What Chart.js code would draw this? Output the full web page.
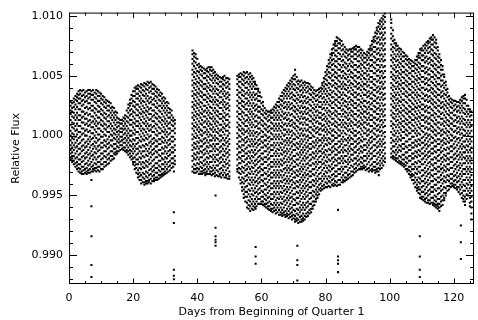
<!DOCTYPE html>
<html lang="en">
<head>
<meta charset="UTF-8">
<title>Relative Flux</title>
<script src="https://cdn.jsdelivr.net/npm/chart.js"></script>
<style>
    html, body { margin: 0; padding: 0; background: #fff; }
</style>
</head>
<body>
<canvas id="fluxChart" width="478" height="320"></canvas>
<script>
// flux values are offsets from 1.0 in units of 1e-4 (38 -> 1.0038)
// columns of samples, on half days and whole days
const q1Days = [0.5,1.5,2.5,3.5,4.5,5.5,6.5,7.5,8.5,9.5,10.5,11.5,12.5,13.5,14.5,15.5,16.5,17.5,18.5,19.5,20.5,21.5,22.5,23.5,24.5,25.5,26.5,27.5,28.5,29.5,30.5,31.5,32.5];
const q1Flux = [
    [28,25,21,18,13,9,4,0,-4,-8,-12,-15,-18,-20],
    [31,28,24,19,15,10,6,1,-3,-8,-12,-17,-21,-24],
    [35,32,29,24,19,15,10,5,1,-4,-9,-13,-18,-22,-25,-28],
    [38,35,31,27,22,17,13,8,3,-1,-6,-11,-15,-20,-24,-28,-31],
    [38,34,30,26,20,16,11,6,2,-3,-8,-12,-17,-21,-26,-29,-32],
    [37,33,29,24,19,14,10,5,0,-5,-9,-14,-18,-23,-27,-30,-32],
    [38,35,32,27,23,18,13,9,4,-1,-5,-10,-15,-19,-24,-28,-31],
    [38,34,30,25,21,16,12,7,2,-2,-7,-11,-16,-20,-25,-28,-30],
    [38,35,31,27,22,17,12,8,3,-2,-6,-11,-15,-20,-24,-27,-30],
    [36,33,29,24,20,15,11,6,1,-3,-8,-12,-17,-22,-26,-30],
    [33,30,26,21,17,12,8,3,-1,-6,-10,-15,-19,-24,-28],
    [30,27,23,18,14,9,5,0,-5,-9,-13,-18,-22,-25],
    [28,25,21,17,12,8,3,-1,-6,-10,-15,-19,-23],
    [24,21,17,13,8,4,0,-4,-9,-13,-17,-20],
    [20,17,13,9,5,1,-3,-7,-11,-14,-16],
    [14,11,8,4,1,-3,-6,-10,-13],
    [13,10,6,3,-1,-4,-8,-11],
    [17,14,10,6,2,-2,-6,-10,-13],
    [26,23,19,15,11,6,2,-2,-6,-10,-13,-16],
    [34,31,27,22,18,13,9,4,0,-5,-9,-13,-17,-20],
    [40,37,33,28,24,19,14,10,5,1,-4,-9,-13,-18,-22,-25,-28],
    [42,39,35,31,26,21,17,12,8,3,-2,-6,-11,-15,-20,-24,-29,-32,-35],
    [43,40,36,31,27,22,18,13,8,4,-1,-5,-10,-15,-19,-24,-28,-33,-37,-40],
    [44,41,37,33,28,23,19,14,10,5,0,-4,-9,-13,-18,-23,-27,-32,-36,-39,-41],
    [45,42,38,33,29,24,20,15,10,6,1,-3,-8,-13,-17,-22,-26,-31,-35,-38,-40],
    [45,41,37,32,28,23,18,14,9,5,0,-5,-9,-14,-18,-23,-28,-32,-36,-40],
    [42,39,35,31,26,21,17,12,8,3,-2,-6,-11,-15,-20,-25,-29,-33,-36,-38],
    [39,36,32,27,23,18,14,9,4,0,-5,-9,-14,-18,-23,-27,-31,-35,-37],
    [36,33,29,25,20,15,11,6,2,-3,-7,-12,-17,-21,-26,-30,-33,-35],
    [32,29,25,21,16,12,7,3,-2,-6,-11,-15,-20,-24,-28,-31,-33],
    [28,25,21,17,12,8,3,-1,-6,-10,-15,-19,-24,-28,-31],
    [22,19,15,11,6,2,-3,-7,-12,-16,-21,-25,-29],
    [15,12,8,4,-1,-5,-10,-14,-19,-23,-26]
];
const q1MidDays = [1,2,3,4,5,6,7,8,9,10,11,12,13,14,15,16,17,18,19,20,21,22,23,24,25,26,27,28,29,30,31,32,33];
const q1MidFlux = [
    [27,23,20,16,11,7,2,-2,-6,-10,-14,-17,-19,-22],
    [33,30,26,22,17,13,8,4,-1,-6,-10,-15,-19,-23,-26],
    [37,34,31,27,22,17,13,8,3,-2,-7,-11,-16,-20,-24,-27,-30],
    [37,33,29,25,20,15,11,6,1,-4,-9,-13,-18,-22,-26,-30,-32],
    [36,32,28,23,18,14,9,4,0,-6,-10,-15,-19,-24,-28,-31],
    [38,35,31,27,22,17,12,8,3,-3,-7,-12,-16,-21,-25,-29,-31],
    [37,34,30,25,21,16,11,7,2,-3,-8,-13,-17,-22,-26,-30],
    [36,32,28,23,19,14,10,5,0,-5,-9,-14,-18,-23,-27,-29],
    [37,33,29,25,20,15,10,6,1,-4,-9,-13,-18,-22,-26,-29],
    [35,31,27,22,18,13,9,4,-1,-6,-10,-15,-20,-24,-28],
    [32,28,24,19,15,10,6,1,-4,-8,-13,-17,-22,-26],
    [29,25,21,16,12,7,3,-3,-7,-11,-16,-20,-24],
    [27,23,19,15,10,6,1,-4,-8,-13,-17,-21],
    [23,19,15,11,6,2,-2,-7,-11,-15,-19],
    [19,15,11,7,3,-1,-5,-9,-13,-15],
    [13,10,6,3,-1,-5,-8,-12],
    [15,12,8,5,1,-3,-6,-10,-12],
    [21,16,12,8,4,0,-4,-8,-12,-14],
    [30,27,25,21,17,13,9,4,0,-4,-8,-12,-15,-18],
    [37,33,29,25,20,16,11,7,2,-3,-7,-11,-15,-19,-22,-24],
    [41,39,35,31,26,22,17,12,8,3,-2,-7,-11,-16,-20,-24,-27,-31],
    [41,37,33,29,24,19,15,10,6,1,-4,-9,-13,-18,-22,-27,-31,-34,-37],
    [42,38,34,29,25,20,16,11,6,2,-3,-8,-13,-17,-22,-26,-31,-35,-39],
    [43,39,35,31,26,21,17,12,8,3,-2,-7,-11,-16,-21,-25,-30,-34,-38,-40],
    [44,40,36,31,27,22,18,13,8,4,-1,-6,-11,-15,-20,-24,-29,-33,-37,-39],
    [43,39,35,30,26,21,16,12,7,3,-3,-7,-12,-16,-21,-26,-30,-34,-38],
    [41,37,33,29,24,19,15,10,6,1,-4,-9,-13,-18,-23,-27,-31,-35,-37],
    [38,34,30,25,21,16,12,7,2,-3,-7,-12,-16,-21,-25,-29,-33,-36],
    [35,31,27,23,18,13,9,4,-1,-5,-10,-15,-19,-24,-28,-32,-34],
    [31,27,23,19,14,10,5,1,-4,-9,-13,-18,-22,-26,-30,-32],
    [27,23,19,15,10,6,1,-4,-8,-13,-17,-22,-26,-30],
    [21,17,13,9,4,-1,-5,-10,-14,-19,-23,-27],
    [13,10,6,2,-3,-8,-12,-17,-21,-24]
];

const q2aDays = [38.5,39.5,40.5,41.5,42.5,43.5,44.5,45.5,46.5,47.5,48.5,49.5];
const q2aFlux = [
    [71,68,64,60,55,51,46,42,37,33,28,24,19,15,10,6,1,-3,-8,-12,-17,-21,-26,-30],
    [68,65,61,56,52,47,43,38,34,29,25,20,16,11,7,2,-2,-7,-11,-16,-20,-25,-28,-31],
    [60,57,53,48,44,39,35,30,26,21,17,12,7,3,-2,-6,-11,-15,-20,-24,-28,-32],
    [57,54,50,45,41,36,32,27,22,18,13,9,4,0,-5,-9,-14,-18,-23,-27,-30,-32],
    [55,52,48,43,39,34,30,25,21,16,12,7,3,-2,-6,-11,-15,-20,-24,-28,-31,-33],
    [57,53,49,44,40,35,31,26,21,17,12,8,3,-1,-6,-10,-15,-19,-24,-28,-32],
    [57,54,50,46,41,37,32,28,23,18,14,9,5,0,-4,-9,-13,-18,-22,-27,-30,-33],
    [53,50,46,41,37,32,28,23,19,14,10,5,0,-4,-9,-13,-18,-22,-27,-31,-34],
    [50,47,43,38,34,29,25,20,16,11,6,2,-3,-7,-12,-16,-21,-25,-30,-34],
    [48,45,41,37,32,28,23,18,14,9,5,0,-4,-9,-13,-18,-22,-27,-31,-35],
    [50,46,42,37,33,28,24,19,15,10,6,1,-4,-8,-13,-17,-22,-26,-31,-35],
    [48,45,41,36,32,27,23,18,13,9,4,0,-5,-9,-14,-18,-23,-27,-32,-36]
];
const q2aMidDays = [39,40,41,42,43,44,45,46,47,48,49,50];
const q2aMidFlux = [
    [69,66,62,58,53,49,44,40,35,31,26,22,17,13,8,4,-1,-6,-10,-15,-19,-24,-28,-31],
    [64,59,54,50,45,41,36,32,27,23,18,14,9,5,0,-5,-9,-14,-18,-23,-27,-30],
    [58,55,51,46,42,37,33,28,24,19,15,10,5,1,-4,-9,-13,-18,-22,-26,-30,-32],
    [56,52,48,43,39,34,30,25,20,16,11,7,2,-3,-7,-12,-16,-21,-25,-29,-31],
    [56,54,50,46,41,37,32,28,23,19,14,10,5,1,-4,-9,-13,-18,-22,-26,-30,-32],
    [57,55,51,47,42,38,33,29,24,19,15,10,6,1,-4,-8,-13,-17,-22,-26,-30,-32],
    [55,52,48,44,39,35,30,26,21,16,12,7,3,-2,-7,-11,-16,-20,-25,-29,-32],
    [51,48,44,39,35,30,26,21,17,12,8,3,-2,-7,-11,-16,-20,-25,-29,-33],
    [49,45,41,36,32,27,23,18,14,9,4,0,-5,-10,-14,-19,-23,-28,-32,-34],
    [49,47,43,39,35,30,26,21,16,12,7,3,-2,-7,-11,-16,-20,-25,-29,-33],
    [48,44,40,35,31,26,22,17,13,8,4,-2,-6,-11,-15,-20,-24,-29,-33,-35],
    [47,43,39,34,30,25,21,16,11,7,2,-3,-7,-12,-16,-21,-25,-30,-34,-36]
];

const q2bDays = [52.5,53.5,54.5,55.5,56.5,57.5,58.5,59.5,60.5,61.5,62.5,63.5,64.5,65.5,66.5,67.5,68.5,69.5,70.5,71.5,72.5,73.5,74.5,75.5,76.5,77.5,78.5,79.5,80.5,81.5,82.5,83.5,84.5,85.5,86.5,87.5,88.5,89.5,90.5,91.5,92.5,93.5,94.5,95.5,96.5,97.5,98.5];
const q2bFlux = [
    [50,47,43,38,34,29,25,20,16,11,7,2,-2,-7,-11,-16,-20,-25,-28,-30],
    [52,49,45,40,36,31,27,22,18,13,8,4,-1,-5,-10,-14,-19,-23,-28,-32,-37,-40],
    [53,50,46,42,37,33,28,24,19,14,10,5,1,-4,-8,-13,-17,-22,-27,-31,-36,-40,-45,-49,-52],
    [53,49,45,40,36,31,27,22,17,13,8,4,-1,-5,-10,-15,-19,-24,-28,-33,-37,-42,-47,-51,-56,-60],
    [52,49,45,41,36,32,27,22,18,13,9,4,0,-5,-9,-14,-19,-23,-28,-32,-37,-41,-46,-51,-55,-59,-63],
    [48,45,41,36,32,27,23,18,14,9,4,0,-5,-9,-14,-18,-23,-27,-32,-37,-41,-46,-50,-55,-59,-62],
    [42,39,35,31,26,22,17,12,8,3,-1,-6,-10,-15,-20,-24,-29,-33,-38,-42,-47,-51,-55,-59],
    [36,33,29,24,20,15,11,6,2,-3,-7,-12,-17,-21,-26,-30,-35,-39,-44,-48,-53,-57],
    [28,25,21,17,12,8,3,-1,-6,-10,-15,-20,-24,-29,-33,-38,-42,-47,-51,-55,-58],
    [21,18,14,9,5,0,-4,-9,-13,-18,-22,-27,-32,-36,-41,-45,-50,-54,-57,-60],
    [20,17,13,8,4,-1,-5,-10,-14,-19,-24,-28,-33,-37,-42,-46,-51,-55,-59,-62],
    [22,19,15,10,6,1,-3,-8,-12,-17,-22,-26,-31,-35,-40,-44,-49,-53,-58,-61,-64],
    [26,23,19,15,10,6,1,-3,-8,-13,-17,-22,-26,-31,-35,-40,-44,-49,-54,-58,-62,-65],
    [31,28,24,19,15,10,6,1,-3,-8,-12,-17,-22,-26,-31,-35,-40,-44,-49,-53,-58,-62,-66],
    [36,33,29,25,20,16,11,7,2,-3,-7,-12,-16,-21,-25,-30,-35,-39,-44,-48,-53,-57,-62,-65,-67],
    [40,37,33,28,24,19,15,10,5,1,-4,-8,-13,-17,-22,-27,-31,-36,-40,-45,-49,-54,-58,-63,-66,-68],
    [44,41,37,33,28,24,19,14,10,5,1,-4,-8,-13,-18,-22,-27,-31,-36,-40,-45,-50,-54,-59,-63,-66,-69],
    [48,45,41,36,32,27,23,18,13,9,4,0,-5,-9,-14,-19,-23,-28,-32,-37,-41,-46,-51,-55,-60,-64,-67,-70],
    [55,51,47,42,38,33,29,24,20,15,10,6,1,-3,-8,-12,-17,-22,-26,-31,-35,-40,-44,-49,-54,-58,-63,-67,-70,-72],
    [46,43,39,34,30,25,21,16,12,7,2,-2,-7,-11,-16,-20,-25,-30,-34,-39,-43,-48,-52,-57,-62,-66,-70,-73],
    [46,42,38,34,29,25,20,16,11,6,2,-3,-7,-12,-16,-21,-26,-30,-35,-39,-44,-48,-53,-58,-62,-67,-70,-72],
    [45,42,38,33,29,24,20,15,11,6,1,-3,-8,-12,-17,-21,-26,-31,-35,-40,-44,-49,-53,-58,-62,-67,-70],
    [44,41,37,32,28,23,19,14,9,5,0,-4,-9,-13,-18,-23,-27,-32,-36,-41,-45,-50,-55,-59,-64,-67],
    [41,38,34,30,25,21,16,12,7,2,-2,-7,-11,-16,-20,-25,-30,-34,-39,-43,-48,-52,-57,-61,-64],
    [38,35,31,26,22,17,13,8,4,-1,-6,-10,-15,-19,-24,-28,-33,-38,-42,-47,-51,-55,-58],
    [38,34,30,26,21,17,12,7,3,-2,-6,-11,-15,-20,-24,-29,-34,-38,-43,-47,-50,-52],
    [40,37,33,28,24,19,15,10,6,1,-4,-8,-13,-17,-22,-26,-31,-36,-40,-44,-46],
    [48,45,41,37,32,28,23,18,14,9,5,0,-4,-9,-14,-18,-23,-27,-32,-36,-41,-44],
    [58,55,51,46,42,37,33,28,23,19,14,10,5,1,-4,-8,-13,-18,-22,-27,-31,-36,-40,-43],
    [68,65,61,57,52,48,43,38,34,29,25,20,16,11,6,2,-3,-7,-12,-16,-21,-26,-30,-35,-39,-43],
    [76,73,69,64,60,55,51,46,42,37,32,28,23,19,14,10,5,0,-4,-9,-13,-18,-22,-27,-32,-36,-40,-42],
    [82,79,75,71,66,62,57,52,48,43,39,34,30,25,20,16,11,7,2,-2,-7,-12,-16,-21,-25,-30,-34,-39,-42],
    [80,77,73,68,64,59,55,50,45,41,36,32,27,23,18,13,9,4,0,-5,-9,-14,-19,-23,-28,-32,-37,-41],
    [76,72,68,63,59,54,50,45,41,36,31,27,22,18,13,9,4,-1,-5,-10,-14,-19,-23,-28,-33,-37,-39],
    [72,69,65,60,56,51,47,42,38,33,28,24,19,15,10,6,1,-4,-8,-13,-17,-22,-26,-31,-35,-37],
    [72,68,64,60,55,51,46,42,37,32,28,23,19,14,10,5,0,-4,-9,-13,-18,-22,-27,-32,-35],
    [73,70,66,61,57,52,48,43,38,34,29,25,20,16,11,6,2,-3,-7,-12,-16,-21,-26,-30,-33],
    [75,72,68,64,59,55,50,45,41,36,32,27,23,18,13,9,4,0,-5,-9,-14,-19,-23,-27,-30],
    [74,71,67,62,58,53,49,44,40,35,30,26,21,17,12,8,3,-2,-6,-11,-15,-20,-24,-28],
    [71,67,63,59,54,50,45,41,36,31,27,22,18,13,9,4,-1,-5,-10,-14,-19,-23,-26,-28],
    [68,65,61,56,52,47,43,38,34,29,24,20,15,11,6,2,-3,-8,-12,-17,-21,-26,-29],
    [72,69,65,60,56,51,47,42,37,33,28,24,19,15,10,5,1,-4,-8,-13,-17,-22,-27,-30],
    [79,76,72,68,63,59,54,49,45,40,36,31,27,22,17,13,8,4,-1,-5,-10,-15,-19,-24,-28,-30],
    [86,83,79,74,70,65,61,56,52,47,42,38,33,29,24,20,15,10,6,1,-3,-8,-12,-17,-22,-26,-29,-31],
    [94,91,87,82,78,73,69,64,59,55,50,46,41,37,32,27,23,18,14,9,5,0,-5,-9,-14,-18,-23,-27,-30],
    [98,95,91,86,82,77,73,68,64,59,54,50,45,41,36,32,27,22,18,13,9,4,0,-5,-9,-14,-19,-23,-27],
    [102,99,95,90,86,81,77,72,68,63,58,54,49,45,40,35,31,26,22,17,13,8,3,-1,-6,-10,-15,-19,-22]
];
const q2bMidDays = [53,54,55,56,57,58,59,60,61,62,63,64,65,66,67,68,69,70,71,72,73,74,75,76,77,78,79,80,81,82,83,84,85,86,87,88,89,90,91,92,93,94,95,96,97,98];
const q2bMidFlux = [
    [51,49,45,41,36,32,27,23,18,14,9,5,0,-5,-9,-14,-18,-23,-27,-31,-35],
    [51,47,43,38,34,29,25,20,16,11,6,2,-3,-8,-12,-17,-21,-26,-30,-35,-39,-43,-46],
    [52,48,44,40,35,31,26,22,17,12,8,3,-2,-6,-11,-15,-20,-25,-29,-34,-38,-43,-47,-51,-55],
    [51,47,43,38,34,29,25,20,15,11,6,2,-3,-8,-13,-17,-22,-26,-31,-35,-40,-45,-49,-54,-58,-61],
    [50,47,43,39,34,30,25,20,16,11,7,2,-3,-7,-12,-17,-21,-26,-30,-35,-39,-44,-49,-53,-57,-61],
    [45,43,39,34,30,25,21,16,12,7,2,-3,-7,-12,-16,-21,-25,-30,-35,-39,-44,-48,-53,-57,-60],
    [39,37,33,29,24,20,15,10,6,1,-4,-8,-13,-18,-22,-27,-31,-36,-40,-45,-49,-53,-57],
    [32,27,22,18,13,9,4,-1,-5,-10,-15,-19,-24,-28,-33,-37,-42,-46,-51,-55,-57],
    [23,19,15,10,6,1,-4,-8,-13,-18,-22,-27,-31,-36,-40,-45,-49,-53,-57,-59],
    [20,16,12,7,3,-2,-7,-11,-16,-20,-25,-30,-34,-39,-43,-48,-52,-56,-59,-61],
    [21,19,15,11,6,2,-3,-8,-12,-17,-22,-26,-31,-35,-40,-44,-49,-53,-57,-61,-63],
    [24,21,17,13,8,4,-1,-6,-10,-15,-20,-24,-29,-33,-38,-42,-47,-51,-56,-60,-63],
    [28,25,21,17,13,8,4,-1,-6,-11,-15,-20,-24,-29,-33,-38,-42,-47,-52,-56,-60,-64],
    [33,30,26,22,17,13,8,4,-1,-6,-10,-15,-20,-24,-29,-33,-38,-42,-47,-51,-56,-60,-64,-66],
    [38,35,31,27,23,18,14,9,5,0,-5,-10,-14,-19,-23,-28,-33,-37,-42,-46,-51,-55,-60,-64,-66],
    [42,39,35,31,26,22,17,13,8,3,-2,-6,-11,-15,-20,-25,-29,-34,-38,-43,-47,-52,-56,-61,-65,-67],
    [46,43,39,35,31,26,22,17,12,8,3,-2,-6,-11,-16,-20,-25,-29,-34,-38,-43,-48,-52,-57,-61,-65,-68],
    [50,47,43,39,34,30,25,21,16,11,7,2,-3,-7,-12,-17,-21,-26,-30,-35,-39,-44,-49,-53,-58,-62,-66,-69],
    [49,45,40,36,31,27,22,18,13,8,4,-1,-6,-10,-15,-20,-24,-29,-33,-38,-42,-47,-52,-56,-61,-65,-69,-71],
    [45,41,37,32,28,23,19,14,10,5,0,-5,-9,-14,-18,-23,-28,-32,-37,-41,-46,-50,-55,-60,-64,-68,-72],
    [44,40,36,32,27,23,18,14,9,4,0,-5,-10,-14,-19,-24,-28,-33,-37,-42,-46,-51,-56,-60,-65,-69,-71],
    [44,40,36,31,27,22,18,13,9,4,-1,-6,-10,-15,-19,-24,-29,-33,-38,-42,-47,-51,-56,-60,-65,-68],
    [43,39,35,30,26,21,17,12,7,3,-2,-7,-11,-16,-21,-25,-30,-34,-39,-43,-48,-53,-57,-62,-65],
    [40,36,32,28,23,19,14,10,5,0,-5,-9,-14,-18,-23,-28,-32,-37,-41,-46,-50,-55,-59,-61],
    [37,33,29,24,20,15,11,6,2,-4,-8,-13,-17,-22,-26,-31,-36,-40,-45,-49,-53,-55],
    [39,36,32,28,24,19,15,10,5,1,-4,-9,-13,-18,-22,-27,-32,-36,-41,-45,-49],
    [44,42,39,35,31,26,22,17,13,8,4,-2,-6,-11,-15,-20,-24,-29,-34,-38,-42,-45],
    [53,50,47,43,39,35,30,26,21,16,12,7,3,-2,-7,-12,-16,-21,-25,-30,-34,-39,-43],
    [63,60,57,53,49,44,40,35,31,26,21,17,12,8,3,-2,-6,-11,-16,-20,-25,-29,-34,-38,-42],
    [72,69,67,63,59,55,50,46,41,36,32,27,23,18,14,9,4,0,-5,-10,-14,-19,-24,-28,-33,-37,-41],
    [79,77,75,71,67,62,58,53,49,44,40,35,30,26,21,17,12,8,3,-2,-7,-11,-16,-20,-25,-30,-34,-38,-41],
    [81,77,73,69,64,60,55,50,46,41,37,32,28,23,18,14,9,5,0,-5,-10,-14,-19,-23,-28,-32,-37,-41],
    [79,75,71,66,62,57,53,48,43,39,34,30,25,21,16,11,7,2,-3,-7,-12,-17,-21,-26,-30,-35,-39],
    [74,70,66,61,57,52,48,43,39,34,29,25,20,16,11,7,2,-3,-8,-12,-17,-21,-26,-31,-35,-38],
    [71,67,63,58,54,49,45,40,36,31,26,22,17,13,8,4,-2,-6,-11,-15,-20,-24,-29,-33,-36],
    [72,70,66,62,58,53,49,44,40,35,30,26,21,17,12,8,3,-2,-7,-11,-16,-20,-25,-30,-34],
    [74,72,68,64,59,55,50,46,41,36,32,27,23,18,14,9,4,0,-5,-10,-14,-19,-24,-28,-31],
    [74,70,66,62,57,53,48,43,39,34,30,25,21,16,11,7,2,-3,-7,-12,-17,-21,-25,-29],
    [72,69,65,60,56,51,47,42,38,33,28,24,19,15,10,6,1,-4,-9,-13,-18,-22,-26,-28],
    [69,65,61,57,52,48,43,39,34,29,25,20,16,11,7,2,-3,-8,-12,-17,-21,-25,-27],
    [70,67,63,59,54,50,45,41,36,32,27,22,18,13,9,4,0,-6,-10,-15,-19,-24,-28],
    [75,73,71,67,63,58,54,49,45,40,35,31,26,22,17,13,8,3,-2,-6,-11,-15,-20,-25,-29],
    [82,80,78,74,70,66,61,57,52,47,43,38,34,29,25,20,15,11,6,2,-3,-8,-13,-17,-22,-26,-29],
    [90,88,85,81,77,72,68,63,59,54,50,45,40,36,31,27,22,18,13,8,4,-1,-6,-10,-15,-20,-24,-28,-30],
    [96,93,89,85,80,76,71,67,62,57,53,48,44,39,35,30,25,21,16,12,7,3,-3,-7,-12,-16,-21,-25,-28],
    [100,97,93,89,84,80,75,71,66,62,57,52,48,43,39,34,30,25,20,16,11,7,2,-3,-7,-12,-17,-21,-25]
];

const q3Days = [100.5,101.5,102.5,103.5,104.5,105.5,106.5,107.5,108.5,109.5,110.5,111.5,112.5,113.5,114.5,115.5,116.5,117.5,118.5,119.5,120.5,121.5,122.5,123.5,124.5,125.5];
const q3Flux = [
    [97,94,90,85,81,76,72,67,63,58,53,49,44,40,35,31,26,21,17,12,8,3,-2,-6,-11,-15,-18],
    [80,77,73,68,64,59,55,50,46,41,36,32,27,23,18,14,9,4,0,-5,-9,-14,-18,-20],
    [75,72,68,63,59,54,50,45,41,36,31,27,22,18,13,9,4,-1,-5,-10,-14,-19,-22],
    [72,68,64,60,55,51,46,42,37,32,28,23,19,14,10,5,0,-4,-9,-13,-18,-22,-24],
    [69,66,62,57,53,48,44,39,35,30,25,21,16,12,7,3,-2,-7,-11,-16,-20,-24,-26],
    [66,63,59,54,50,45,41,36,32,27,22,18,13,9,4,0,-5,-10,-14,-19,-23,-28,-30],
    [63,60,56,52,47,43,38,34,29,24,20,15,11,6,2,-3,-8,-12,-17,-21,-26,-30,-33,-35],
    [61,58,54,49,45,40,36,31,26,22,17,13,8,4,-1,-6,-10,-15,-19,-24,-28,-33,-37,-40],
    [66,63,59,55,50,46,41,36,32,27,23,18,14,9,4,0,-5,-9,-14,-18,-23,-28,-32,-37,-41,-44,-46],
    [72,69,65,60,56,51,47,42,38,33,28,24,19,15,10,6,1,-4,-8,-13,-17,-22,-26,-31,-36,-40,-45,-49,-52],
    [75,71,67,63,58,54,49,45,40,35,31,26,22,17,13,8,3,-1,-6,-10,-15,-19,-24,-29,-33,-38,-42,-47,-51,-54],
    [78,75,71,66,62,57,53,48,44,39,34,30,25,21,16,12,7,2,-2,-7,-11,-16,-20,-25,-30,-34,-39,-43,-48,-52,-56],
    [81,78,74,70,65,61,56,51,47,42,38,33,29,24,19,15,10,6,1,-3,-8,-13,-17,-22,-26,-31,-35,-40,-45,-49,-54,-57],
    [84,80,76,71,67,62,58,53,49,44,39,35,30,26,21,17,12,7,3,-2,-6,-11,-15,-20,-25,-29,-34,-38,-43,-47,-52,-56,-58],
    [80,77,73,68,64,59,55,50,45,41,36,32,27,23,18,13,9,4,0,-5,-9,-14,-19,-23,-28,-32,-37,-41,-46,-51,-55,-58,-60],
    [68,65,61,57,52,48,43,38,34,29,25,20,16,11,6,2,-3,-7,-12,-16,-21,-26,-30,-35,-39,-44,-48,-53,-57,-60,-63],
    [58,55,51,46,42,37,33,28,24,19,14,10,5,1,-4,-8,-13,-18,-22,-27,-31,-36,-40,-45,-50,-54,-58],
    [45,42,38,34,29,25,20,15,11,6,2,-3,-7,-12,-17,-21,-26,-30,-35,-39,-44,-48,-50],
    [33,30,26,21,17,12,8,3,-2,-6,-11,-15,-20,-24,-29,-34,-38,-42,-45],
    [30,27,23,19,14,10,5,0,-4,-9,-13,-18,-22,-27,-32,-36,-40,-42],
    [29,26,22,17,13,8,4,-1,-5,-10,-15,-19,-24,-28,-33,-37,-41,-44],
    [28,25,21,16,12,7,3,-2,-6,-11,-16,-20,-25,-29,-34,-38,-43,-47],
    [32,29,25,21,16,12,7,2,-2,-7,-11,-16,-20,-25,-30,-34,-39,-43,-48,-52],
    [34,31,27,22,18,13,9,4,0,-5,-10,-14,-19,-23,-28,-32,-37,-42,-46,-51,-55,-58],
    [25,22,18,13,9,4,0,-5,-9,-14,-19,-23,-28,-32,-37,-41,-46,-50],
    [20,17,13,8,4,-1,-5,-10,-14,-19,-23,-28,-33,-37,-42,-46,-51,-55,-60,-65,-70]
];
const q3MidDays = [101,102,103,104,105,106,107,108,109,110,111,112,113,114,115,116,117,118,119,120,121,122,123,124,125];
const q3MidFlux = [
    [88,83,79,74,70,65,61,56,51,47,42,38,33,29,24,19,15,10,6,1,-4,-9,-13,-17,-19],
    [77,75,71,66,62,57,53,48,44,39,34,30,25,21,16,12,7,2,-3,-7,-12,-16,-19,-21],
    [73,70,66,61,57,52,48,43,39,34,29,25,20,16,11,7,2,-3,-8,-12,-17,-21,-23],
    [70,66,62,58,53,49,44,40,35,30,26,21,17,12,8,3,-2,-7,-11,-16,-20,-23,-25],
    [67,64,60,55,51,46,42,37,33,28,23,19,14,10,5,1,-5,-9,-14,-18,-22,-25,-28],
    [64,61,57,52,48,43,39,34,30,25,20,16,11,7,2,-3,-8,-12,-17,-21,-26,-29,-32],
    [62,58,54,50,45,41,36,32,27,22,18,13,9,4,-1,-6,-10,-15,-19,-24,-28,-32,-34,-37],
    [63,60,56,52,47,43,38,34,29,24,20,15,11,6,2,-4,-8,-13,-17,-22,-26,-31,-35,-39,-43],
    [69,67,65,61,57,53,48,44,39,34,30,25,21,16,12,7,2,-3,-7,-12,-16,-21,-26,-30,-35,-39,-43,-45,-48],
    [73,71,67,63,58,54,49,45,40,36,31,26,22,17,13,8,4,-2,-6,-11,-15,-20,-24,-29,-34,-38,-43,-47,-51,-53],
    [76,73,69,65,61,56,52,47,43,38,33,29,24,20,15,11,6,1,-4,-8,-13,-17,-22,-27,-31,-36,-40,-45,-49,-53,-55],
    [79,77,73,69,64,60,55,51,46,42,37,32,28,23,19,14,10,5,0,-5,-9,-14,-18,-23,-28,-32,-37,-41,-46,-50,-54,-56],
    [82,80,76,72,68,63,59,54,49,45,40,36,31,27,22,17,13,8,4,-1,-6,-11,-15,-20,-24,-29,-33,-38,-43,-47,-52,-56],
    [82,78,74,69,65,60,56,51,47,42,37,33,28,24,19,15,10,5,1,-4,-9,-13,-18,-23,-27,-32,-36,-41,-45,-50,-54,-57,-59],
    [74,71,66,62,57,53,48,43,39,34,30,25,21,16,11,7,2,-3,-7,-12,-17,-21,-26,-30,-35,-39,-44,-49,-53,-57,-59,-61],
    [63,59,55,50,46,41,36,32,27,23,18,14,9,4,0,-5,-10,-14,-19,-24,-28,-33,-37,-42,-46,-51,-55,-59],
    [51,49,44,40,35,31,26,22,17,12,8,3,-2,-6,-11,-16,-20,-25,-29,-34,-38,-43,-48,-52,-54],
    [39,36,32,27,23,18,13,9,4,0,-5,-10,-15,-19,-24,-28,-33,-37,-42,-46],
    [31,28,24,19,15,10,6,1,-4,-9,-13,-18,-22,-27,-32,-36,-40,-43],
    [29,25,21,17,12,8,3,-2,-7,-11,-16,-20,-25,-30,-34,-38,-41,-43],
    [28,24,20,15,11,6,2,-3,-8,-13,-17,-22,-26,-31,-35,-39,-43,-45],
    [30,27,23,19,14,10,5,1,-4,-9,-14,-18,-23,-27,-32,-36,-41,-45,-49],
    [33,31,27,23,19,14,10,5,0,-5,-9,-14,-18,-23,-28,-32,-37,-41,-46,-50,-53,-55],
    [30,25,20,16,11,7,2,-3,-8,-12,-17,-21,-26,-30,-35,-40,-44,-49,-53],
    [22,20,16,11,7,2,-3,-7,-12,-17,-21,-26,-30,-35,-39,-44,-48,-52,-56,-59]
];

// isolated low points below the main band
const outlierDays = [7.0, 32.7, 45.7, 58.2, 71.2, 83.9, 96.6, 109.4, 122.2];
const outlierFlux = [
    [-37,-59,-84,-108,-118],
    [-30,-64,-73,-112,-117,-120],
    [-50,-77,-84,-87,-89,-92],
    [-61,-93,-101,-107],
    [-92,-104,-108,-121],
    [-62,-101,-104,-107,-114],
    [-33],
    [-84,-101,-112,-118],
    [-75,-89,-103]
];

const xTickValues = [0, 20, 40, 60, 80, 100, 120];
const yTickValues = [0.990, 0.995, 1.000, 1.005, 1.010];
const xRange = [0, 126.3];
const yRange = [0.98761, 1.01027];

// turn the day columns into scatter points
function toPoints(days, flux) {
    var pts = [];
    for (var i = 0; i < days.length; i++) {
        for (var j = 0; j < flux[i].length; j++) {
            pts.push({ x: days[i], y: 1 + flux[i][j] / 10000 });
        }
    }
    return pts;
}

var points = [].concat(
    toPoints(q1Days, q1Flux), toPoints(q1MidDays, q1MidFlux),
    toPoints(q2aDays, q2aFlux), toPoints(q2aMidDays, q2aMidFlux),
    toPoints(q2bDays, q2bFlux), toPoints(q2bMidDays, q2bMidFlux),
    toPoints(q3Days, q3Flux), toPoints(q3MidDays, q3MidFlux),
    toPoints(outlierDays, outlierFlux)
);

// IDL style frame: box on all four sides with inward major/minor ticks
const idlFrame = {
    id: 'idlFrame',
    afterDraw(chart) {
        var ctx = chart.ctx, a = chart.chartArea;
        var xs = chart.scales.x, ys = chart.scales.y;
        ctx.save();
        ctx.strokeStyle = '#000';
        ctx.lineWidth = 1;
        ctx.strokeRect(a.left + 0.5, a.top + 0.5, a.right - a.left - 1, a.bottom - a.top - 1);
        ctx.beginPath();
        for (var d = 0; d <= xRange[1]; d += 5) {
            var px = Math.round(xs.getPixelForValue(d)) + 0.5;
            var len = (d % 20 === 0) ? 5.5 : 3;
            ctx.moveTo(px, a.bottom); ctx.lineTo(px, a.bottom - len);
            ctx.moveTo(px, a.top); ctx.lineTo(px, a.top + len);
        }
        for (var k = 0; k <= 25; k++) {
            var v = 0.988 + k * 0.001;
            if (v > yRange[1]) break;
            var py = Math.round(ys.getPixelForValue(v)) + 0.5;
            var ylen = (k % 5 === 2) ? 8 : 4;
            ctx.moveTo(a.left, py); ctx.lineTo(a.left + ylen, py);
            ctx.moveTo(a.right, py); ctx.lineTo(a.right - ylen, py);
        }
        ctx.stroke();
        ctx.restore();
    }
};

var tickFont = { family: 'DejaVu Sans', size: 11 };

new Chart(document.getElementById('fluxChart'), {
    type: 'scatter',
    data: {
        datasets: [{
            data: points,
            pointStyle: 'rect',
            pointRadius: 1.45,
            backgroundColor: '#000',
            borderWidth: 0
        }]
    },
    options: {
        responsive: false,
        animation: false,
        events: [],
        layout: { padding: { left: 0, right: 1, top: 11, bottom: 0 } },
        plugins: { legend: { display: false }, tooltip: { enabled: false } },
        scales: {
            x: {
                type: 'linear',
                min: xRange[0],
                max: xRange[1],
                afterBuildTicks: function (s) { s.ticks = xTickValues.map(function (v) { return { value: v }; }); },
                afterFit: function (s) { s.height = 36; },
                grid: { display: false, drawTicks: false },
                border: { display: false },
                ticks: { font: tickFont, color: '#000', padding: 8, maxRotation: 0, autoSkip: false },
                title: { display: true, text: 'Days from Beginning of Quarter 1', font: tickFont, color: '#000', padding: { top: 2, bottom: 1.5 } }
            },
            y: {
                min: yRange[0],
                max: yRange[1],
                afterBuildTicks: function (s) { s.ticks = yTickValues.map(function (v) { return { value: v }; }); },
                afterFit: function (s) { s.width = 69; },
                grid: { display: false, drawTicks: false },
                border: { display: false },
                ticks: { font: tickFont, color: '#000', padding: 6, autoSkip: false,
                    callback: function (v) { return Number(v).toFixed(3); } },
                title: { display: true, text: 'Relative Flux', font: tickFont, color: '#000', padding: { top: 10, bottom: 0 } }
            }
        }
    },
    plugins: [idlFrame]
});
</script>
</body>
</html>
